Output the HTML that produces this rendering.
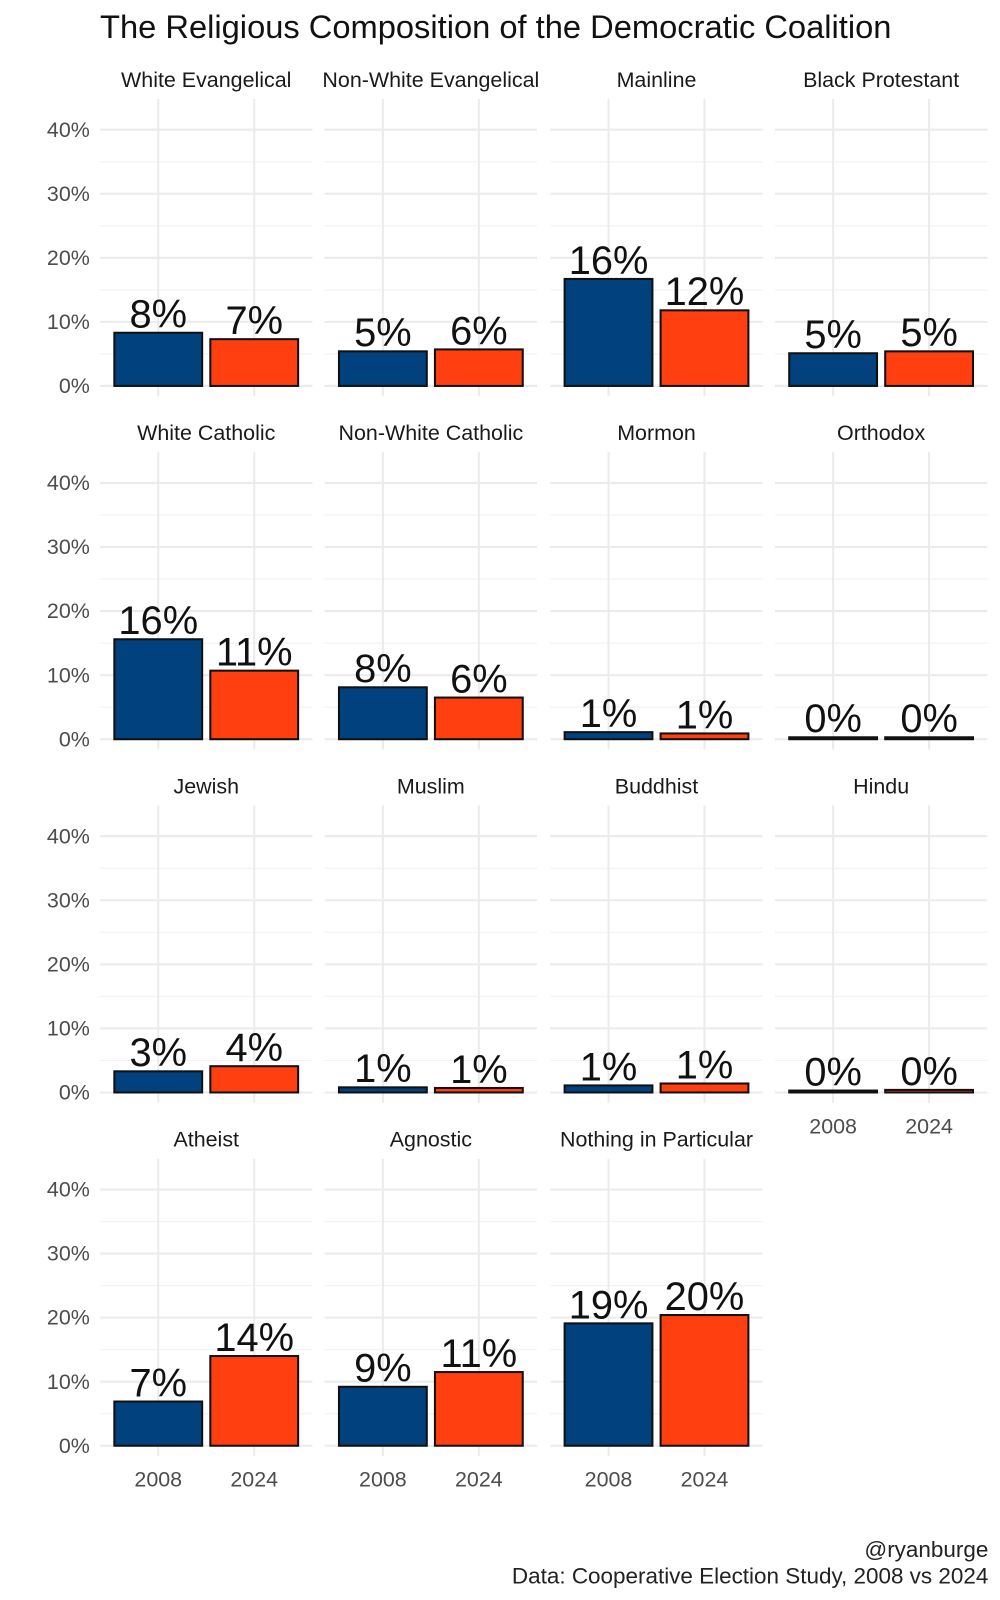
<!DOCTYPE html>
<html><head><meta charset="utf-8">
<style>
html,body{margin:0;padding:0;background:#fff;}
svg{display:block;font-family:"Liberation Sans Narrow","Liberation Sans",sans-serif;}
</style></head>
<body>
<svg width="1000" height="1600" viewBox="0 0 1000 1600" xmlns="http://www.w3.org/2000/svg">
<g id="chart" transform="scale(1.021)">
<text x="98" y="37" font-size="32" fill="#111">The Religious Composition of the Democratic Coalition</text>
<text x="968" y="1525" font-size="22" fill="#222" text-anchor="end">@ryanburge</text>
<text x="968" y="1551" font-size="22" fill="#222" text-anchor="end">Data: Cooperative Election Study, 2008 vs 2024</text>
</g>
</svg>
<script>
const groups = ["White Evangelical","Non-White Evangelical","Mainline","Black Protestant","White Catholic","Non-White Catholic","Mormon","Orthodox","Jewish","Muslim","Buddhist","Hindu","Atheist","Agnostic","Nothing in Particular"];
const years = ["2008","2024"];
const values2008 = [8.3,5.4,16.7,5.1,15.6,8.1,1.1,0.3,3.3,0.8,1.1,0.3,6.9,9.2,19.1];
const values2024 = [7.3,5.7,11.8,5.4,10.7,6.5,0.9,0.3,4.1,0.7,1.4,0.4,14.0,11.5,20.4];
const labels2008 = ["8%","5%","16%","5%","16%","8%","1%","0%","3%","1%","1%","0%","7%","9%","19%"];
const labels2024 = ["7%","6%","12%","5%","11%","6%","1%","0%","4%","1%","1%","0%","14%","11%","20%"];
const yTicks = [0,10,20,30,40];
const yTickLabels = ["0%","10%","20%","30%","40%"];

const svg = document.getElementById('chart');
const NS = "http://www.w3.org/2000/svg";
const colX0 = [98,318,539,759], panelW = 208;
const rowY0 = [378,724,1070,1416];
const pxPerPct = 6.275;
const colors = ["#00417e","#ff3f0f"];
function mk(tag, attrs){const e=document.createElementNS(NS,tag);for(const k in attrs)e.setAttribute(k,attrs[k]);return e;}
function yScale(row,v){return rowY0[row]-v*pxPerPct;}
function xScale(col,i){return colX0[col]+57+i*94;}

groups.forEach((g,idx)=>{
  const row=Math.floor(idx/4), col=idx%4;
  const grp=mk('g',{});
  
  
  svg.appendChild(grp);
  const top=yScale(row,44.8), bot=yScale(row,-1.6);
  for(let v=5;v<=45;v+=10){const y=yScale(row,v); if(y<top) continue;
    const l=mk('line',{x1:colX0[col],x2:colX0[col]+panelW,y1:y,y2:y,stroke:"#f3f3f3","stroke-width":1.2});
    
    
    grp.appendChild(l);}
  yTicks.forEach((v,ti)=>{const y=yScale(row,v);
    const l=mk('line',{x1:colX0[col],x2:colX0[col]+panelW,y1:y,y2:y,stroke:"#ebebeb","stroke-width":2});
    
    
    grp.appendChild(l);
    if(col===0){const t=mk('text',{x:88,y:y+7,"font-size":21,fill:"#4d4d4d","text-anchor":"end"});t.textContent=yTickLabels[ti];
      
      
      grp.appendChild(t);}
  });
  years.forEach((yr,i)=>{const x=xScale(col,i);
    const l=mk('line',{x1:x,x2:x,y1:top,y2:bot,stroke:"#ebebeb","stroke-width":2});
    
    
    grp.appendChild(l);});
  const st=mk('text',{x:colX0[col]+panelW/2,y:yScale(row,40)-42,"font-size":21,fill:"#1a1a1a","text-anchor":"middle"});
  st.textContent=g;
  
  
  grp.appendChild(st);
  const vals=[values2008[idx],values2024[idx]], labs=[labels2008[idx],labels2024[idx]];
  years.forEach((yr,i)=>{const x=xScale(col,i), y=yScale(row,vals[i]), y0=yScale(row,0);
    const r=mk('rect',{x:x-43,y:y,width:86,height:Math.max(y0-y,0.5),fill:colors[i],stroke:"#111","stroke-width":2});
    
    
    grp.appendChild(r);
    const t=mk('text',{x:x,y:y-5,"font-size":39,fill:"#111","text-anchor":"middle"});t.textContent=labs[i];
    
    
    grp.appendChild(t);
    if(row===3||idx===11){const xt=mk('text',{x:x,y:yScale(row,0)+40,"font-size":21,fill:"#4d4d4d","text-anchor":"middle"});xt.textContent=yr;
      
      
      grp.appendChild(xt);}
  });
});
</script>
</body></html>
